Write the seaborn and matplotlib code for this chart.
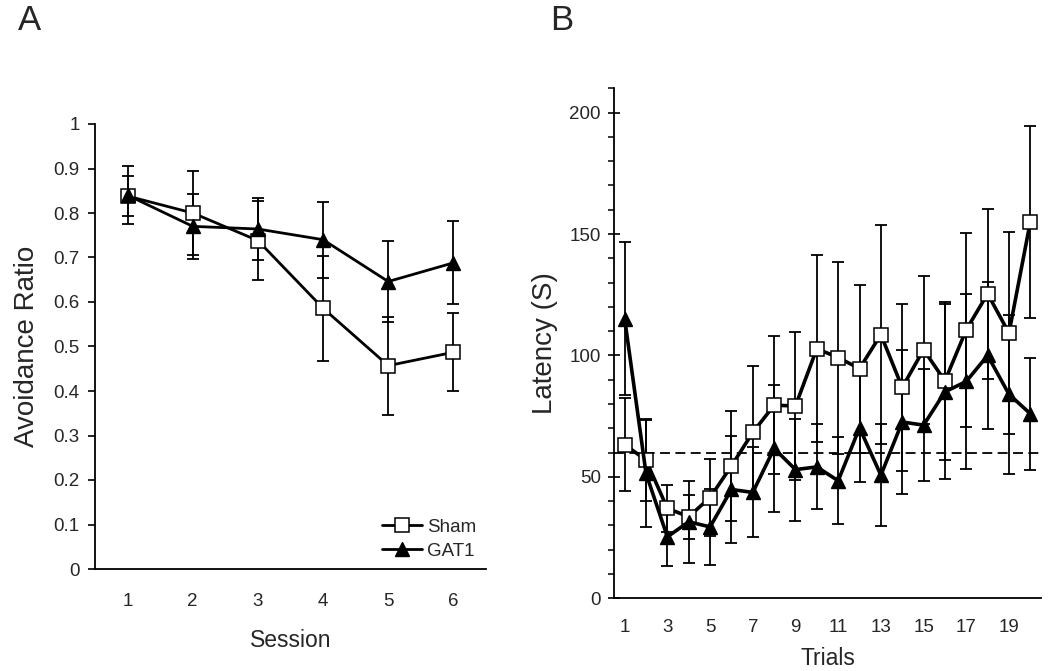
import numpy as np
import pandas as pd
import matplotlib
matplotlib.use("Agg")
import matplotlib.pyplot as plt
import seaborn as sns
from matplotlib.ticker import MultipleLocator, FixedLocator, FuncFormatter

# ---------------- data ----------------
sessions = [1, 2, 3, 4, 5, 6]
sham_ratio = [0.838, 0.800, 0.738, 0.586, 0.457, 0.487]
sham_ratio_err = [0.045, 0.095, 0.089, 0.118, 0.110, 0.088]
gat1_ratio = [0.840, 0.770, 0.764, 0.740, 0.646, 0.688]
gat1_ratio_err = [0.065, 0.073, 0.070, 0.085, 0.092, 0.093]

trials = list(range(1, 21))
trial_labels = [str(t) for t in range(1, 21, 2)]
sham_latency = [63.3, 56.9, 37.0, 33.6, 41.5, 54.5, 68.3, 79.5, 79.2, 102.8,
                99.1, 94.6, 108.6, 86.8, 102.4, 89.5, 110.6, 125.4, 109.2, 155.1]
sham_latency_err = [19.2, 17.0, 9.6, 9.0, 16.0, 22.5, 27.5, 28.5, 30.5, 38.5,
                    39.5, 34.6, 45.0, 34.5, 30.5, 32.5, 40.0, 35.0, 41.5, 39.5]
gat1_latency = [115.1, 51.4, 25.3, 31.5, 29.4, 44.8, 43.6, 61.7, 53.0, 54.1,
                48.4, 70.2, 50.7, 72.6, 71.3, 85.0, 89.3, 100.0, 84.0, 76.0]
gat1_latency_err = [31.5, 22.0, 12.0, 17.0, 15.5, 22.0, 18.5, 26.0, 21.0, 17.5,
                    18.0, 22.5, 21.0, 29.5, 23.0, 36.0, 36.0, 30.2, 32.8, 23.0]
criterion = 60

# ---------------- style ----------------
sns.set_style("white")
plt.rcParams["font.family"] = ["Liberation Sans", "DejaVu Sans"]

fig = plt.figure(figsize=(10.5, 6.71), dpi=100)
axA = fig.add_axes([95 / 1050, 1 - 569 / 671, 391 / 1050, 445 / 671])
axB = fig.add_axes([614 / 1050, 1 - 598.3 / 671, 427 / 1050, 510 / 671])

sham_style = dict(color="black", marker="s", markerfacecolor="white",
                  markeredgecolor="black", markeredgewidth=1.1)
gat_style = dict(color="black", marker="^", markerfacecolor="black",
                 markeredgecolor="black", markeredgewidth=1.0)
err_kw = dict(fmt="none", ecolor="black", elinewidth=1.3, capsize=4.5, capthick=1.3)

# ---------------- panel A ----------------
axA.errorbar(sessions, sham_ratio, yerr=sham_ratio_err, zorder=2, **err_kw)
axA.errorbar(sessions, gat1_ratio, yerr=gat1_ratio_err, zorder=2, **err_kw)
sns.lineplot(x=sessions, y=sham_ratio, ax=axA, lw=2.0, markersize=10,
             label="Sham", zorder=3, **sham_style)
sns.lineplot(x=sessions, y=gat1_ratio, ax=axA, lw=2.0, markersize=10,
             label="GAT1", zorder=4, **gat_style)

axA.set_xlim(0.5, 6.5)
axA.set_ylim(0, 1)
axA.yaxis.set_major_locator(MultipleLocator(0.1))
axA.yaxis.set_major_formatter(FuncFormatter(lambda v, p: f"{v:.1f}".rstrip("0").rstrip(".") if v else "0"))
axA.xaxis.set_major_locator(FixedLocator(sessions))
axA.xaxis.set_minor_locator(FixedLocator(np.arange(0.5, 7.0, 1.0)))
axA.tick_params(axis="x", which="major", length=0, pad=17, labelsize=13.5)
axA.tick_params(axis="x", which="minor", length=4, width=1.2, direction="out", color="black")
axA.tick_params(axis="y", which="major", length=5, width=1.2, direction="out",
                pad=6, labelsize=13.5, color="black", left=True)
axA.set_xlabel("Session", fontsize=16.5, labelpad=14)
axA.set_ylabel("Avoidance Ratio", fontsize=20, labelpad=10)
for s in ["top", "right"]:
    axA.spines[s].set_visible(False)
for s in ["left", "bottom"]:
    axA.spines[s].set_color("black")
    axA.spines[s].set_linewidth(1.3)
leg = axA.legend(loc="lower right", bbox_to_anchor=(1.0, 0.0), frameon=False,
                 fontsize=13.5, handlelength=2.1, handletextpad=0.3,
                 labelspacing=0.35, borderaxespad=0.1)

# ---------------- panel B ----------------
axB.errorbar(trials, sham_latency, yerr=sham_latency_err, zorder=2, **err_kw)
axB.errorbar(trials, gat1_latency, yerr=gat1_latency_err, zorder=2, **err_kw)
axB.axhline(criterion, color="black", lw=1.3, ls=(0, (5.5, 3)), zorder=1)
sns.lineplot(x=trials, y=sham_latency, ax=axB, lw=2.6, markersize=9.5,
             zorder=3, legend=False, **sham_style)
sns.lineplot(x=trials, y=gat1_latency, ax=axB, lw=2.6, markersize=9.5,
             zorder=4, legend=False, **gat_style)

axB.set_xlim(0.5, 20.5)
axB.set_ylim(0, 210)
axB.yaxis.set_major_locator(FixedLocator([0, 50, 100, 150, 200]))
axB.yaxis.set_minor_locator(MultipleLocator(10))
axB.xaxis.set_major_locator(FixedLocator(list(range(1, 21, 2))))
axB.xaxis.set_major_formatter(FuncFormatter(lambda v, p: trial_labels[p] if p is not None and p < len(trial_labels) else ""))
axB.xaxis.set_minor_locator(FixedLocator(np.arange(0.5, 21.0, 1.0)))
axB.tick_params(axis="x", which="major", length=0, pad=15, labelsize=13.5)
axB.tick_params(axis="x", which="minor", length=5, width=1.2, direction="out", color="black")
axB.tick_params(axis="y", which="major", length=9, width=1.2, direction="inout",
                pad=5, labelsize=13.5, color="black", left=True)
axB.tick_params(axis="y", which="minor", length=4, width=1.1, direction="out",
                color="black", left=True)
axB.set_xlabel("Trials", fontsize=16.5, labelpad=8)
axB.set_ylabel("Latency (S)", fontsize=20, labelpad=8)
for s in ["top", "right"]:
    axB.spines[s].set_visible(False)
for s in ["left", "bottom"]:
    axB.spines[s].set_color("black")
    axB.spines[s].set_linewidth(1.3)

# ---------------- panel letters ----------------
fig.text(30 / 1050, 1 - 21 / 671, "A", fontsize=25, ha="center", va="center")
fig.text(562 / 1050, 1 - 21 / 671, "B", fontsize=25, ha="center", va="center")

fig.savefig("out.png", dpi=100)
